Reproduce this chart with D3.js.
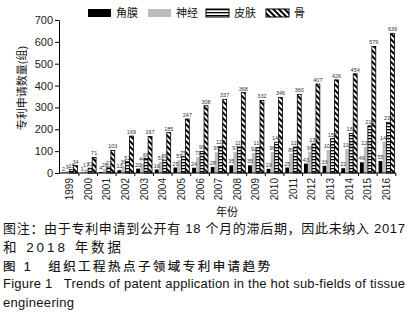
<!DOCTYPE html>
<html>
<head>
<meta charset="utf-8">
<script src="https://cdn.jsdelivr.net/npm/d3@7"></script>
<style>
  body { margin: 0; background: #fff; }
  svg { display: block; font-family: "Liberation Sans", Arial, sans-serif; }
  .cap { font-family: "Liberation Sans", "Noto Sans CJK SC", sans-serif; fill: #111; }
</style>
</head>
<body>
<svg id="chart" width="416" height="323"></svg>
<script>
// data
const years = ["1999","2000","2001","2002","2003","2004","2005","2006","2007","2008",
               "2009","2010","2011","2012","2013","2014","2015","2016"];
const seriesNames = ["角膜", "神经", "皮肤", "骨"];
const cornea = [2, 1, 4, 13, 20, 16, 25, 24, 28, 35, 35, 19, 25, 43, 33, 22, 49, 55];
const nerve  = [9, 17, 20, 30, 44, 51, 59, 73, 95, 97, 92, 96, 89, 98, 105, 110, 120, 144];
const skin   = [15, 22, 27, 52, 66, 59, 75, 99, 122, 119, 117, 141, 119, 133, 157, 181, 216, 232];
const bone   = [34, 71, 103, 169, 167, 185, 247, 308, 337, 368, 332, 346, 360, 407, 426, 454, 579, 639];
const yTicks = [0, 100, 200, 300, 400, 500, 600, 700];

const svg = d3.select("#chart");
const defs = svg.append("defs");

// horizontal stripes for 皮肤
const hs = defs.append("pattern").attr("id", "hstripe")
  .attr("patternUnits", "userSpaceOnUse").attr("width", 4).attr("height", 3);
hs.append("rect").attr("width", 4).attr("height", 3).attr("fill", "#fff");
hs.append("rect").attr("y", 0).attr("width", 4).attr("height", 1.3).attr("fill", "#000");

// diagonal hatch for 骨 (top-left to bottom-right)
const dh = defs.append("pattern").attr("id", "diag")
  .attr("patternUnits", "userSpaceOnUse").attr("width", 4).attr("height", 4)
  .attr("patternTransform", "rotate(-45)");
dh.append("rect").attr("width", 4).attr("height", 4).attr("fill", "#fff");
dh.append("rect").attr("width", 2).attr("height", 4).attr("fill", "#000");

const fills = ["#000", "#bdbdbd", "url(#hstripe)", "url(#diag)"];

const x0 = 59, x1 = 396, yTop = 20, yBot = 173;

const x = d3.scaleBand().domain(years).range([x0 + 1, x1]).paddingInner(0.14).paddingOuter(0.08);
const xs = d3.scaleBand().domain(d3.range(4)).range([0, x.bandwidth()]).padding(0.02);
const y = d3.scaleLinear().domain([0, 700]).range([yBot, yTop]);

const rows = years.map((yr, i) => ({
  year: yr,
  vals: [cornea[i], nerve[i], skin[i], bone[i]]
}));

// bars
const grp = svg.append("g").selectAll("g").data(rows).join("g")
  .attr("transform", d => `translate(${x(d.year)},0)`);

grp.selectAll("rect").data(d => d.vals.map((v, k) => ({v, k}))).join("rect")
  .attr("x", d => xs(d.k))
  .attr("y", d => y(d.v))
  .attr("width", xs.bandwidth())
  .attr("height", d => yBot - y(d.v))
  .attr("fill", d => fills[d.k])
  .attr("stroke", d => d.k >= 2 ? "#000" : "none")
  .attr("stroke-width", 0.8);

grp.selectAll("text").data(d => d.vals.map((v, k) => ({v, k}))).join("text")
  .attr("x", d => xs(d.k) + xs.bandwidth() / 2)
  .attr("y", d => y(d.v) - 2)
  .attr("text-anchor", "middle")
  .attr("font-size", 5.5)
  .attr("fill", "#333")
  .text(d => d.v);

// y axis
const yAxis = d3.axisLeft(y).tickValues(yTicks).tickSize(4).tickSizeOuter(0);
const ya = svg.append("g").attr("transform", `translate(${x0},0)`).call(yAxis);
ya.select(".domain").attr("stroke", "#000");
ya.selectAll("text").attr("font-size", 11).attr("fill", "#222").attr("dx", 1);

// x axis
const xAxis = d3.axisBottom(x).tickSize(3).tickSizeOuter(0);
const xa = svg.append("g").attr("transform", `translate(0,${yBot})`).call(xAxis);
xa.select(".domain").attr("d", `M${x0},0H${x1}`).attr("stroke", "#000");
xa.selectAll(".tick line").attr("transform", d => `translate(${x.step() / 2},0)`);
xa.selectAll("text")
  .attr("font-size", 10).attr("fill", "#222")
  .attr("text-anchor", "end")
  .attr("transform", "rotate(-90)")
  .attr("x", -5).attr("y", 0).attr("dy", "0.35em");

// axis titles
svg.append("text").attr("class", "cap")
  .attr("transform", "translate(26,88) rotate(-90)")
  .attr("text-anchor", "middle").attr("font-size", 11).attr("fill", "#444")
  .text("专利申请数量(组)");
svg.append("text").attr("class", "cap")
  .attr("x", 227).attr("y", 216).attr("text-anchor", "middle")
  .attr("font-size", 11).attr("fill", "#444")
  .text("年份");

// legend
const legX = [88, 148, 206, 266];
const leg = svg.append("g").selectAll("g").data(seriesNames).join("g")
  .attr("transform", (d, i) => `translate(${legX[i]},9)`);
leg.append("rect").attr("width", 23).attr("height", 8)
  .attr("fill", (d, i) => fills[i])
  .attr("stroke", (d, i) => i >= 2 ? "#000" : "none").attr("stroke-width", 1);
leg.append("text").attr("class", "cap").attr("x", 28).attr("y", 8)
  .attr("font-size", 11).attr("fill", "#222").text(d => d);

// captions
const caps = [
  {t: "图注：由于专利申请到公开有 18 个月的滞后期，因此未纳入 2017", y: 233, s: 13, w: 402, st: 0},
  {t: "和 2018 年数据", y: 252, s: 13.5, w: 118, st: 0},
  {t: "图 1　组织工程热点子领域专利申请趋势", y: 271, s: 12.5, w: 267, st: 0.2},
  {t: "Figure 1   Trends of patent application in the hot sub-fields of tissue", y: 288, s: 13, w: 402, st: 0},
  {t: "engineering", y: 307, s: 13, w: 71, st: 0}
];
svg.append("g").selectAll("text").data(caps).join("text")
  .attr("class", "cap")
  .attr("x", 3).attr("y", d => d.y)
  .attr("font-size", d => d.s)
  .attr("textLength", d => d.w).attr("lengthAdjust", "spacing")
  .attr("stroke", "#111").attr("stroke-width", d => d.st)
  .attr("xml:space", "preserve").style("white-space", "pre")
  .text(d => d.t);
</script>
</body>
</html>
